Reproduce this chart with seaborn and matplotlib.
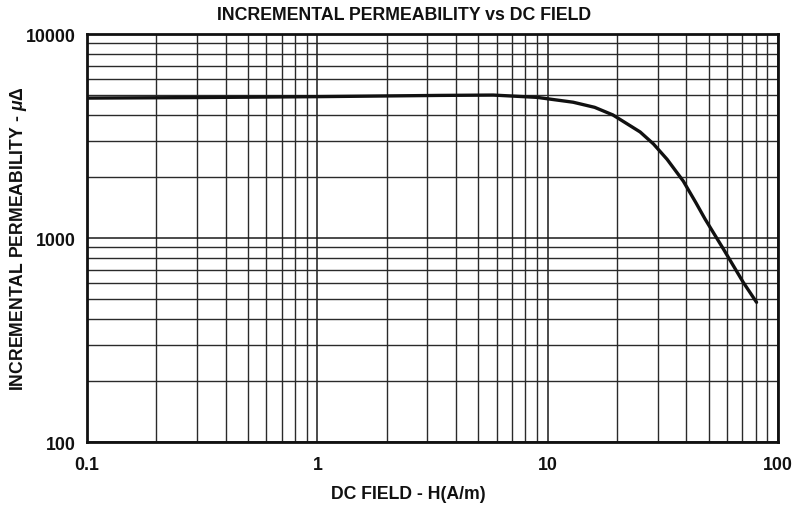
import matplotlib
matplotlib.use("Agg")
import matplotlib.pyplot as plt
import matplotlib.ticker as mticker
import numpy as np
import pandas as pd
import seaborn as sns

# DC field H (A/m) and incremental permeability readings
dc_field = [0.1, 0.3, 1, 3.4, 5.8, 9, 12.9, 16, 19.2, 25.2, 28.8, 33, 38.8, 44,
            48.2, 57.9, 70.6, 80.7]
permeability = [4850, 4880, 4930, 5000, 5020, 4890, 4630, 4370, 4010, 3310, 2890,
                2430, 1900, 1490, 1240, 884, 607, 484]

x_ticks = [0.1, 1, 10, 100]
x_tick_labels = ["0.1", "1", "10", "100"]
y_ticks = [100, 1000, 10000]
y_tick_labels = ["100", "1000", "10000"]

sns.set_theme(style="white")
plt.rcParams["font.family"] = ["Liberation Sans", "DejaVu Sans"]
plt.rcParams["mathtext.fontset"] = "custom"
plt.rcParams["mathtext.it"] = "Liberation Sans:italic:bold"
plt.rcParams["mathtext.rm"] = "Liberation Sans:bold"

df = pd.DataFrame({"H": dc_field, "mu": permeability})

fig = plt.figure(figsize=(8.02, 5.06), dpi=100)
ax = fig.add_axes([87 / 802, 1 - 443 / 506, (778 - 87) / 802, (443 - 35) / 506])

ax.set_xscale("log")
ax.set_yscale("log")
ax.set_xlim(0.1, 100)
ax.set_ylim(100, 10000)

ax.xaxis.set_major_locator(mticker.FixedLocator(x_ticks))
ax.yaxis.set_major_locator(mticker.FixedLocator(y_ticks))
ax.xaxis.set_minor_locator(mticker.LogLocator(base=10, subs=np.arange(2, 10)))
ax.yaxis.set_minor_locator(mticker.LogLocator(base=10, subs=np.arange(2, 10)))
ax.xaxis.set_minor_formatter(mticker.NullFormatter())
ax.yaxis.set_minor_formatter(mticker.NullFormatter())
ax.set_xticklabels(x_tick_labels)
ax.set_yticklabels(y_tick_labels)

ax.grid(True, which="major", color="#1a1a1a", linewidth=1.1)
ax.grid(True, which="minor", color="#2a2a2a", linewidth=1.0)
ax.set_axisbelow(True)

sns.lineplot(data=df, x="H", y="mu", ax=ax, color="#111111", linewidth=2.4,
             estimator=None, sort=True)

for s in ax.spines.values():
    s.set_visible(True)
    s.set_color("#111111")
    s.set_linewidth(2.0)

ax.tick_params(axis="both", which="both", length=0)
ax.tick_params(axis="x", pad=10, labelsize=12.8)
ax.tick_params(axis="y", pad=8, labelsize=12.8)
for lab in ax.get_xticklabels() + ax.get_yticklabels():
    lab.set_fontweight("bold")
    lab.set_color("#111111")

ax.set_xlabel("DC FIELD - H(A/m)", fontsize=12.7, fontweight="bold", color="#111111")
ax.xaxis.set_label_coords((408 - 87) / 691, (443 - 486) / 408)
ax.set_ylabel(r"INCREMENTAL PERMEABILITY - $\mu\Delta$", fontsize=12.7, fontweight="bold",
              color="#111111")
ax.yaxis.set_label_coords((29 - 87) / 691, 0.5)

fig.suptitle("INCREMENTAL PERMEABILITY vs DC FIELD", x=0.504, y=1 - 7 / 506,
             va="top", fontsize=12.8, fontweight="bold", color="#111111")

fig.savefig("out.png", dpi=100)
